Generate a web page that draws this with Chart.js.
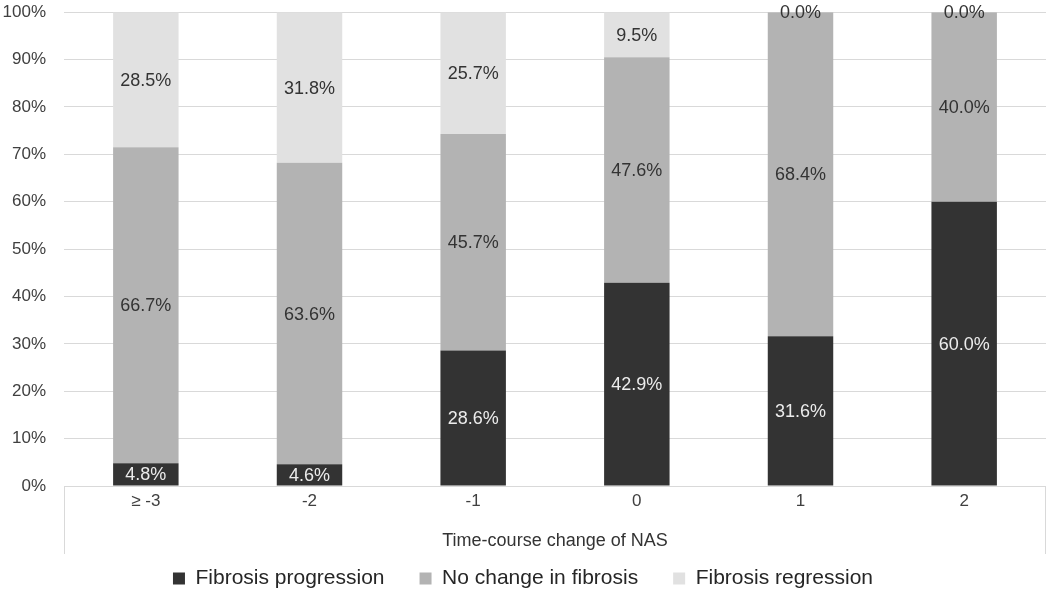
<!DOCTYPE html>
<html>
<head>
<meta charset="utf-8">
<script src="https://cdn.jsdelivr.net/npm/chart.js@4"></script>
<style>
  html, body { margin: 0; padding: 0; background: #fff; }
  #wrap { width: 1050px; height: 590px; }
</style>
</head>
<body>
<div id="wrap"><canvas id="myChart" width="1050" height="590"></canvas></div>
<script>
const categorias = ['\u2265 -3', '-2', '-1', '0', '1', '2'];
const progresion = [4.8, 4.6, 28.6, 42.9, 31.6, 60.0];
const sinCambio = [66.7, 63.6, 45.7, 47.6, 68.4, 40.0];
const regresion = [28.5, 31.8, 25.7, 9.5, 0.0, 0.0];
const ticksY = [0, 10, 20, 30, 40, 50, 60, 70, 80, 90, 100];

const fuente = '"Liberation Sans", Arial, sans-serif';
const colorTexto = ['#ececec', '#333333', '#333333'];

// etiquetas centradas en cada segmento
const etiquetas = {
	id: 'etiquetas',
	afterDatasetsDraw(chart) {
		const ctx = chart.ctx;
		ctx.save();
		ctx.font = '18px ' + fuente;
		ctx.textAlign = 'center';
		ctx.textBaseline = 'middle';
		chart.data.datasets.forEach((ds, i) => {
			const meta = chart.getDatasetMeta(i);
			meta.data.forEach((el, j) => {
				ctx.fillStyle = colorTexto[i];
				ctx.fillText(ds.data[j].toFixed(1) + '%', el.x, (el.y + el.base) / 2 + 1);
			});
		});
		ctx.restore();
	},
};

// lineas laterales bajo el eje x
const bordes = {
	id: 'bordes',
	afterDraw(chart) {
		const ctx = chart.ctx;
		const a = chart.chartArea;
		const x = chart.scales.x;
		ctx.save();
		ctx.strokeStyle = '#d9d9d9';
		ctx.lineWidth = 1;
		ctx.beginPath();
		ctx.moveTo(a.left + 0.5, a.bottom);
		ctx.lineTo(a.left + 0.5, x.bottom);
		ctx.moveTo(a.right - 0.5, a.bottom);
		ctx.lineTo(a.right - 0.5, x.bottom);
		ctx.stroke();
		ctx.restore();
	},
};

const config = {
	type: 'bar',
	data: {
		labels: categorias,
		datasets: [
			{
				label: 'Fibrosis progression',
				data: progresion,
				backgroundColor: '#333333',
			},
			{
				label: 'No change in fibrosis',
				data: sinCambio,
				backgroundColor: '#b3b3b3',
			},
			{
				label: 'Fibrosis regression',
				data: regresion,
				backgroundColor: '#e1e1e1',
			},
		],
	},
	options: {
		responsive: false,
		animation: false,
		layout: { padding: { top: 0, right: 4, left: 0, bottom: -9 } },
		datasets: { bar: { barPercentage: 0.4, categoryPercentage: 1.0 } },
		plugins: {
			tooltip: { enabled: false },
			legend: {
				position: 'bottom',
				labels: {
					boxWidth: 12,
					boxHeight: 12,
					padding: 14,
					color: '#262626',
					font: { size: 21, family: fuente },
					// espacio extra entre elementos de la leyenda
					generateLabels: (chart) => {
						const items = Chart.defaults.plugins.legend.labels.generateLabels(chart);
						items.forEach((it, i) => {
							if (i < items.length - 1) it.text = it.text + '\u2002\u2002';
						});
						return items;
					},
				},
			},
		},
		scales: {
			x: {
				stacked: true,
				grid: { display: false, drawTicks: false },
				border: { display: false },
				ticks: {
					color: '#404040',
					padding: 5,
					font: { size: 17, family: fuente },
				},
				title: {
					display: true,
					text: 'Time-course change of NAS',
					color: '#333333',
					padding: { top: 14, bottom: 2 },
					font: { size: 18, family: fuente },
				},
			},
			y: {
				stacked: true,
				min: 0,
				max: 100,
				afterFit: (s) => { s.width = 64; },
				afterBuildTicks: (s) => { s.ticks = ticksY.map((v) => ({ value: v })); },
				grid: { color: '#d9d9d9', drawTicks: true, tickLength: 16, tickColor: 'rgba(0,0,0,0)' },
				border: { display: false },
				ticks: {
					color: '#404040',
					padding: 2,
					callback: (v) => v + '%',
					font: { size: 17, family: fuente },
				},
			},
		},
	},
	plugins: [etiquetas, bordes],
};

const myChart = new Chart(document.getElementById('myChart'), config);
</script>
</body>
</html>
